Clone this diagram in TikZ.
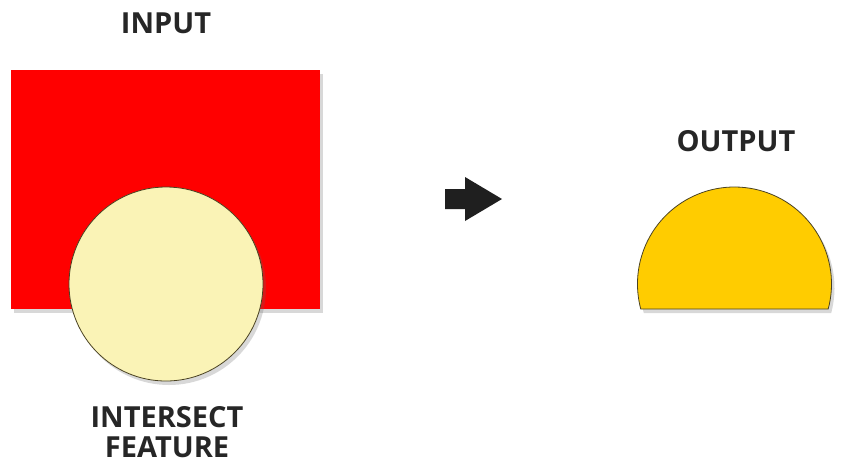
\documentclass[tikz,border=0pt]{standalone}
\usepackage{fontspec}
\setmainfont{Open Sans}
\usetikzlibrary{shadows}
\definecolor{inred}{HTML}{FF0000}
\definecolor{paleyel}{HTML}{FAF3B6}
\definecolor{gold}{HTML}{FFCC00}
\definecolor{rim}{HTML}{4A4222}
\begin{document}
\begin{tikzpicture}[x=1pt, y=-1pt,
    lbl/.style={font=\fontsize{29}{30}\selectfont\bfseries, text=black!85, align=center, inner sep=0pt},
    shade/.style={drop shadow={shadow xshift=3pt, shadow yshift=-4pt, opacity=0.25, fill=black!60}}]
  \useasboundingbox[fill=white] (0,0) rectangle (850,469);
  % --- Input layer ---
  \fill[inred, shade] (11,70) rectangle (320,309);
  \filldraw[fill=paleyel, draw=rim, line width=0.8pt, shade] (166,284) circle[radius=97];
  % --- Labels ---
  \node[lbl] (input) at (166,23) {INPUT};
  \node[lbl] (feature) at (167,432) {INTERSECT\\FEATURE};
  \node[lbl] (output) at (736,141) {OUTPUT};
  % --- Arrow ---
  \fill[black!88] (445,189) -- (465,189) -- (465,177) -- (502,199)
    -- (465,221) -- (465,209) -- (445,209) -- cycle;
  % --- Output segment ---
  \filldraw[fill=gold, draw=rim, line width=0.8pt, shade]
    (828.2,309) arc[start angle=14.93, end angle=-194.93, radius=97] -- cycle;
\end{tikzpicture}
\end{document}
